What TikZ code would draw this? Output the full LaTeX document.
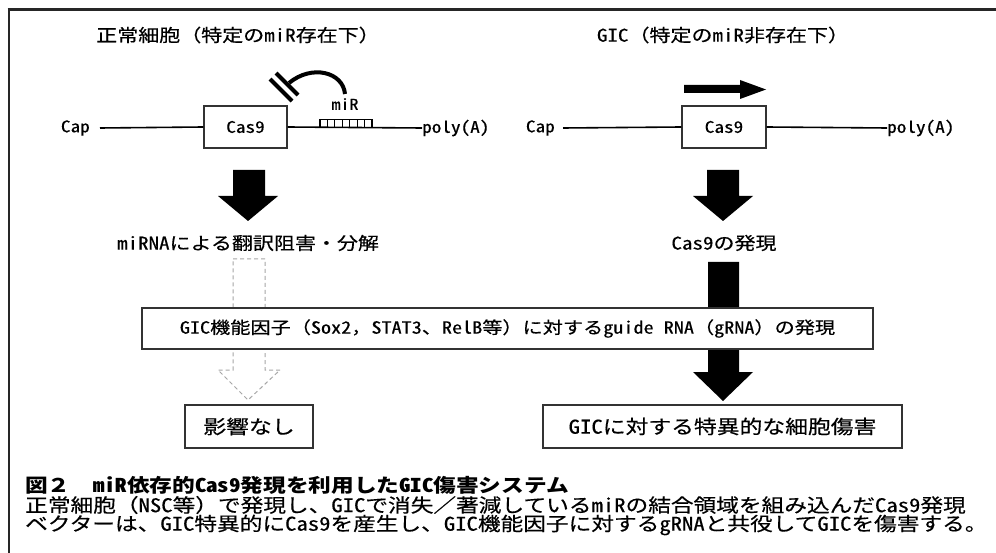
\documentclass[tikz,border=0pt]{standalone}
\usepackage{fontspec}
\setmainfont{Noto Sans CJK JP}[FakeStretch=1.2, FakeBold=0.4]
\newfontfamily\hwfont{Noto Sans CJK JP}[FakeStretch=1.2, FakeBold=0.4, RawFeature={+hwid}]
\newfontfamily\ttlfont{Noto Sans CJK JP}
\newfontfamily\ttlhwfont{Noto Sans CJK JP}[RawFeature={+hwid}]
\newcommand{\h}[1]{{\hwfont #1}}
\newcommand{\hb}[1]{{\ttlhwfont\bfseries #1}}
\newcommand{\fsz}[1]{\fontsize{#1}{#1}\selectfont}
\begin{document}
\begin{tikzpicture}[x=1pt,y=-1pt,
  lbl/.style={inner sep=0pt, text=black},
  gbox/.style={draw=black!80, line width=1.3pt, fill=white, inner sep=0pt},
  dna/.style={line width=1.6pt},
  blockarrow/.style={fill=black},
  ghostarrow/.style={draw=black!35, line width=1pt, dash pattern=on 4pt off 3pt}
]
\useasboundingbox (0,0) rectangle (996,553);
\fill[white] (0,0) rectangle (996,553);
% outer frame (top and left only)
\draw[black!85, line width=3pt] (7.5,9.5) -- (996,9.5);
\draw[black!85, line width=2.4pt] (9,9) -- (9,553);

% titles
\node[lbl, font=\fsz{17.5}] (titleL) at (238,35) {正常細胞（特定の\h{miR}存在下）};
\node[lbl, font=\fsz{17.5}] (titleR) at (723,35) {\h{GIC}（特定の\h{miR}非存在下）};

% left construct
\node[gbox, minimum width=83pt, minimum height=42pt, font=\fsz{16}\hwfont] (cas9L) at (245.5,127) {Cas9};
\node[lbl, anchor=east, font=\fsz{16}\hwfont] (capL) at (90,128) {Cap};
\node[lbl, anchor=west, font=\fsz{16}\hwfont] (polyL) at (422,128) {poly(A)};
\draw[dna] ([xshift=10pt]capL.east) -- (cas9L.west);
\draw[dna] (cas9L.east) -- (polyL.west);
% miR target sites
\foreach \i in {0,...,6} {
  \draw[line width=1.1pt] (320+\i*7.43,119.5) rectangle (320+\i*7.43+7.43,127.5);
}
\node[lbl, font=\fsz{15}\hwfont] (mirlbl) at (345,104) {miR};
% inhibition symbol
\draw[line width=4pt] (345,94) .. controls (343,72) and (312,64) .. (289,83);
\draw[line width=4pt] (276,73) -- (298,95);
\draw[line width=4pt] (270,79) -- (292,101);

% right construct
\node[gbox, minimum width=84pt, minimum height=42pt, font=\fsz{16}\hwfont] (cas9R) at (724,127) {Cas9};
\node[lbl, anchor=east, font=\fsz{16}\hwfont] (capR) at (555,128) {Cap};
\node[lbl, anchor=west, font=\fsz{16}\hwfont] (polyR) at (887,128) {poly(A)};
\draw[dna] ([xshift=8pt]capR.east) -- (cas9R.west);
\draw[dna] (cas9R.east) -- (polyR.west);
% translation arrow
\fill[blockarrow] (684,85) -- (740,85) -- (740,80) -- (766,89.5) -- (740,99) -- (740,93) -- (684,93) -- cycle;

% block arrows
\fill[blockarrow] (233,170) -- (265,170) -- (265,196) -- (278,196) -- (248,221) -- (218,196) -- (233,196) -- cycle;
\fill[blockarrow] (707,170) -- (739,170) -- (739,196) -- (753,196) -- (723,221) -- (693,196) -- (707,196) -- cycle;

\node[lbl, font=\fsz{17.5}] (degrade) at (248,243) {\h{miRNA}による翻訳阻害・分解};
\node[lbl, font=\fsz{17.5}] (express) at (724,243) {\h{Cas9}の発現};

\draw[ghostarrow] (233,259) -- (265,259) -- (265,370) -- (280,370) -- (248,400) -- (218,370) -- (233,370) -- cycle;
\fill[blockarrow] (708,262) -- (739,262) -- (739,372) -- (753,372) -- (723,401) -- (693,372) -- (708,372) -- cycle;

% gRNA box
\node[gbox, minimum width=731pt, minimum height=41pt, font=\fsz{16.8}] (grna) at (507.5,328.5) {\h{GIC}機能因子（\h{Sox2}，\h{STAT3}、\h{RelB}等）に対する\h{guide RNA}（\h{gRNA}）の発現};

% outcome boxes
\node[gbox, minimum width=128pt, minimum height=43pt, font=\fsz{19}] (noeff) at (249,426.5) {影響なし};
\node[gbox, minimum width=359pt, minimum height=43pt, font=\fsz{19}] (kill) at (722.5,426.5) {\h{GIC}に対する特異的な細胞傷害};

% caption
\node[lbl, anchor=west, font=\fsz{18.9}\ttlfont\bfseries] (cap1) at (25,485) {\scalebox{1.2}[1]{図２　\hb{miR}依存的\hb{Cas9}発現を利用した\hb{GIC}傷害システム}};
\node[lbl, anchor=west, font=\fsz{18.9}] (cap2) at (25,505) {正常細胞（\h{NSC}等）で発現し、\h{GIC}で消失／著減している\h{miR}の結合領域を組み込んだ\h{Cas9}発現};
\node[lbl, anchor=west, font=\fsz{18.9}] (cap3) at (25,525) {ベクターは、\h{GIC}特異的に\h{Cas9}を産生し、\h{GIC}機能因子に対する\h{gRNA}と共役して\h{GIC}を傷害する。};
\end{tikzpicture}
\end{document}
